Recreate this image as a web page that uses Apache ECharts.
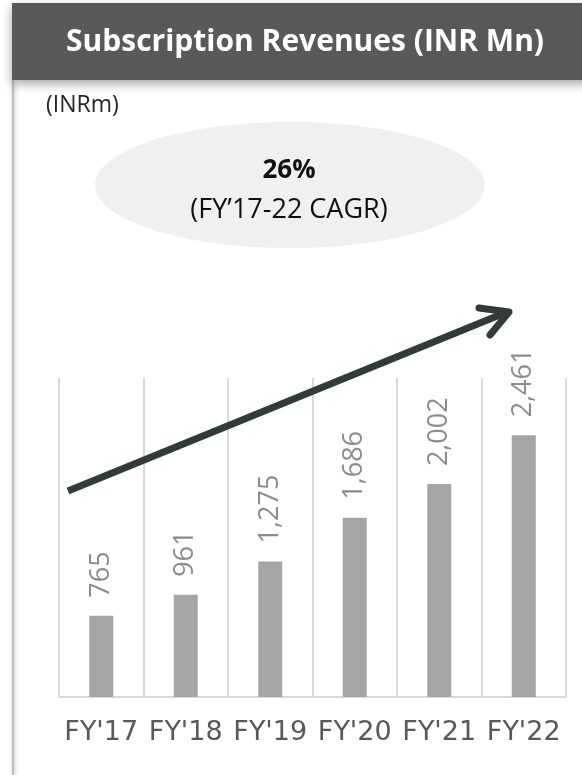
<!DOCTYPE html>
<html>
<head>
<meta charset="utf-8">
<script src="https://cdn.jsdelivr.net/npm/echarts@6/dist/echarts.min.js"></script>
<style>
html,body{margin:0;padding:0;background:#fff;}
#chart{width:582px;height:775px;}
</style>
</head>
<body>
<div id="chart"></div>
<script>
var categories = ["FY'17", "FY'18", "FY'19", "FY'20", "FY'21", "FY'22"];
var revenues = [765, 961, 1275, 1686, 2002, 2461];
var titleText = "Subscription Revenues (INR Mn)";
var unitText = "(INRm)";
var cagrValue = "26%";
var cagrPeriod = "(FY\u201917-22 CAGR)";

var chart = echarts.init(document.getElementById('chart'), null, {renderer: 'canvas'});
chart.setOption({
  backgroundColor: '#ffffff',
  animation: false,
  grid: {left: 59, right: 16, top: 378, bottom: 78, containLabel: false},
  xAxis: {
    type: 'category',
    data: categories,
    boundaryGap: true,
    axisLine: {show: true, lineStyle: {color: '#d9d9d9', width: 2}},
    axisTick: {show: false},
    splitLine: {show: true, lineStyle: {color: '#d9d9d9', width: 2}},
    axisLabel: {color: '#595959', fontSize: 27, fontFamily: 'DejaVu Sans', margin: 22, interval: 0}
  },
  yAxis: {
    type: 'value', min: 0, max: 3000, show: false,
    splitLine: {show: false}
  },
  series: [{
    type: 'bar',
    data: revenues,
    barWidth: 24,
    itemStyle: {color: '#a5a5a5'},
    label: {
      show: true, position: 'top', rotate: 90, align: 'left', verticalAlign: 'middle',
      distance: 18, color: '#8c8c8c', fontSize: 27, fontFamily: 'Open Sans',
      formatter: function(p){ return p.value.toLocaleString('en-US'); }
    }
  }],
  graphic: [
    {type: 'rect', shape: {x: 12, y: 3, width: 580, height: 77}, style: {fill: '#595959', shadowBlur: 10, shadowColor: 'rgba(0,0,0,0.35)', shadowOffsetY: 4}, z: 10},
    {type: 'text', x: 305, y: 42, style: {text: titleText, fill: '#ffffff', font: 'bold 30px "Open Sans"', textAlign: 'center', textVerticalAlign: 'middle'}, z: 11},
    {type: 'line', shape: {x1: 13, y1: 80, x2: 13, y2: 775}, style: {stroke: '#bfbfbf', lineWidth: 2, shadowBlur: 4, shadowColor: 'rgba(0,0,0,0.3)', shadowOffsetX: 1}, z: 9},
    {type: 'text', x: 46, y: 105, style: {text: unitText, fill: '#262626', font: '23px "Open Sans"', textAlign: 'left', textVerticalAlign: 'middle'}, z: 11},
    {type: 'ellipse', shape: {cx: 290, cy: 185, rx: 195, ry: 63}, style: {fill: '#f0f0f0'}, z: 5},
    {type: 'text', x: 289, y: 171, style: {text: cagrValue, fill: '#111111', font: 'bold 26px "Open Sans"', textAlign: 'center', textVerticalAlign: 'middle'}, z: 6},
    {type: 'text', x: 289, y: 210, style: {text: cagrPeriod, fill: '#111111', font: '27px "Open Sans"', textAlign: 'center', textVerticalAlign: 'middle'}, z: 6},
    {type: 'line', shape: {x1: 68, y1: 491, x2: 507, y2: 312}, style: {stroke: '#323a3a', lineWidth: 7, lineCap: 'butt'}, z: 20},
    {type: 'polyline', shape: {points: [[479, 308], [509, 312], [490, 335]]}, style: {stroke: '#323a3a', lineWidth: 7, lineCap: 'round', lineJoin: 'round', fill: null}, z: 20}
  ]
});
</script>
</body>
</html>
